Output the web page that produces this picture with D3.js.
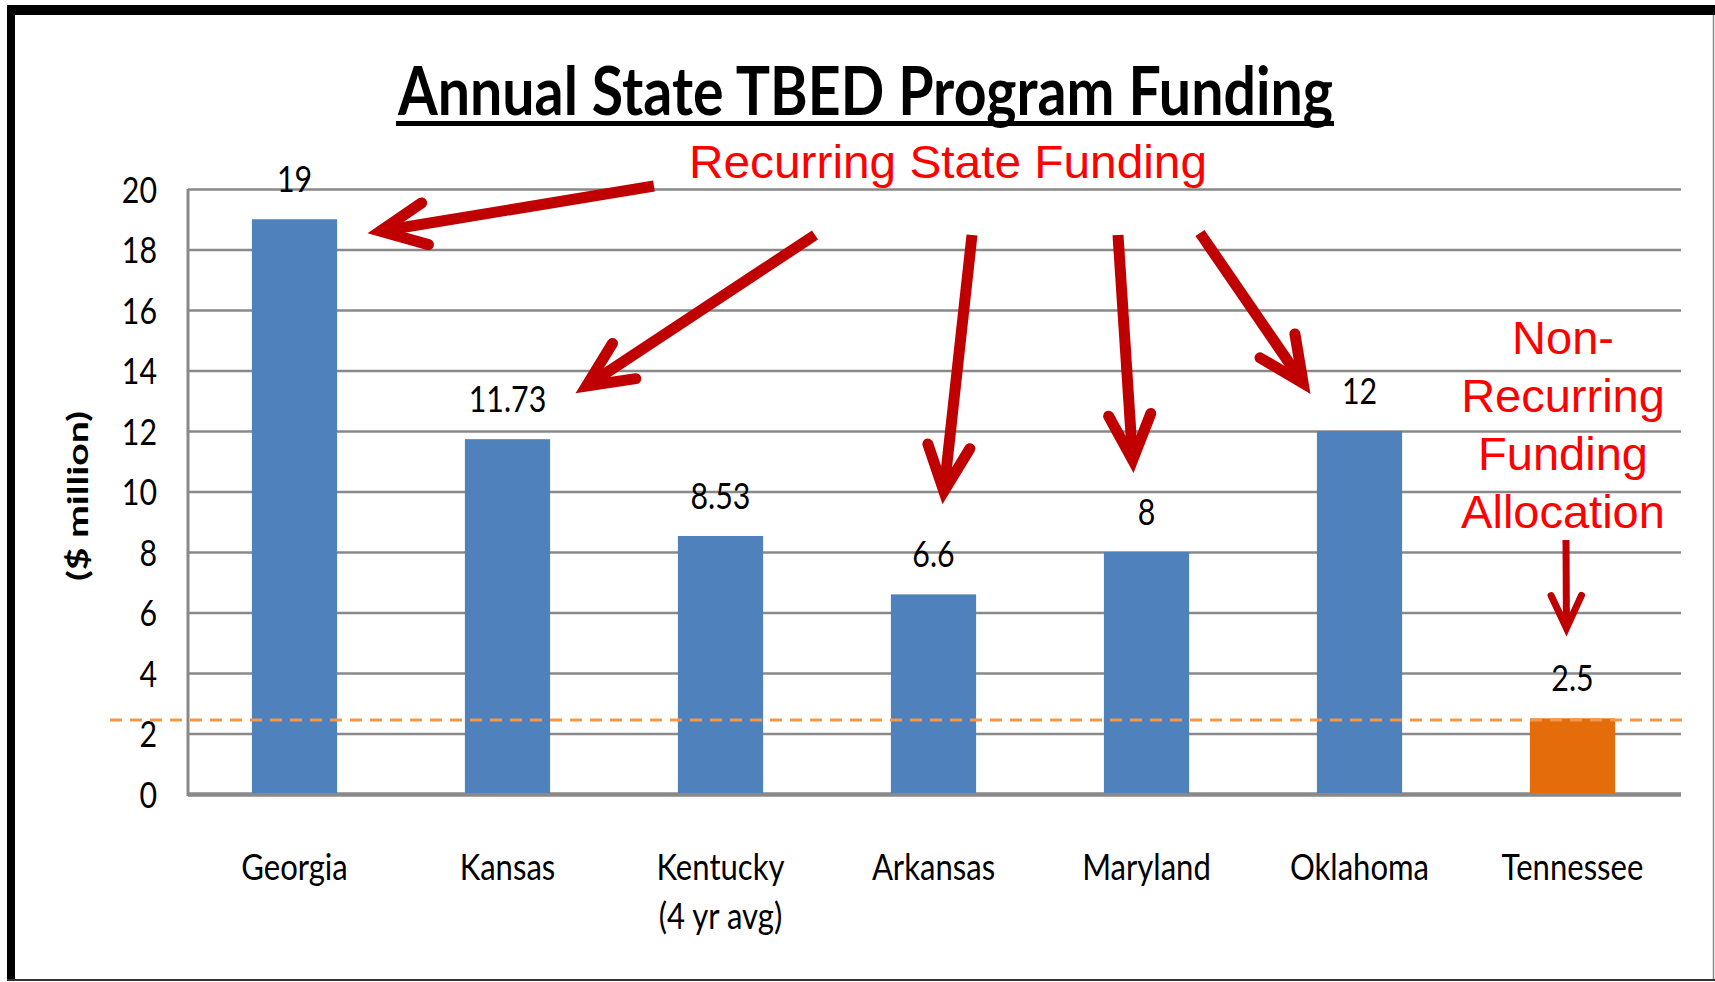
<!DOCTYPE html>
<html>
<head>
<meta charset="utf-8">
<script src="https://cdn.jsdelivr.net/npm/d3@7"></script>
<style>
  html, body { margin: 0; padding: 0; background: #fff; }
  svg { display: block; }
</style>
</head>
<body>
<div id="canvas"></div>
<script>
// chart data
const categories = ["Georgia", "Kansas", "Kentucky", "Arkansas", "Maryland", "Oklahoma", "Tennessee"];
const subLabels = ["", "", "(4 yr avg)", "", "", "", ""];
const funding = [19, 11.73, 8.53, 6.6, 8, 12, 2.5];
const valueLabels = ["19", "11.73", "8.53", "6.6", "8", "12", "2.5"];
const recurring = [true, true, true, true, true, true, false];
const yTicks = [0, 2, 4, 6, 8, 10, 12, 14, 16, 18, 20];
const refValue = 2.45;
const nonRecurringLines = ["Non-", "Recurring", "Funding", "Allocation"];

const width = 1715;
const height = 982;
const margin = { top: 189, left: 188, bottom: 188, right: 36 };
const iwidth = width - margin.left - margin.right;
const iheight = height - margin.top - margin.bottom;

const calibri = "Lato, 'Open Sans', sans-serif";
const arial = "'Liberation Sans', Arial, sans-serif";
const arrowRed = "#C00000";

// squeeze text horizontally, the source font is narrow
function condense(sel, k) {
    sel.each(function () {
        const len = this.getComputedTextLength();
        d3.select(this).attr("textLength", len * k).attr("lengthAdjust", "spacingAndGlyphs");
    });
}

const svg = d3.select("#canvas").append("svg")
    .attr("width", width)
    .attr("height", height);

svg.append("rect").attr("width", width).attr("height", height).attr("fill", "#fff");

// frame
svg.append("rect").attr("x", 7).attr("y", 5).attr("width", width - 7).attr("height", 10).attr("fill", "#000");
svg.append("rect").attr("x", 7).attr("y", 5).attr("width", 8).attr("height", height - 7).attr("fill", "#000");
svg.append("line").attr("x1", width - 1.5).attr("x2", width - 1.5).attr("y1", 15).attr("y2", height - 1)
    .attr("stroke", "#888").attr("stroke-width", 1.5);
svg.append("line").attr("x1", 7).attr("x2", width).attr("y1", height - 2).attr("y2", height - 2)
    .attr("stroke", "#333").attr("stroke-width", 2);

// title
svg.append("text")
    .attr("x", 398).attr("y", 115)
    .attr("font-family", calibri).attr("font-weight", 700).attr("font-size", 66)
    .attr("fill", "#000")
    .attr("textLength", 935).attr("lengthAdjust", "spacingAndGlyphs")
    .text("Annual State TBED Program Funding");
svg.append("rect").attr("x", 396).attr("y", 121).attr("width", 938).attr("height", 5).attr("fill", "#000");

const g = svg.append("g").attr("transform", `translate(${margin.left},${margin.top})`);

const y = d3.scaleLinear().domain([0, 20]).range([iheight, 0]);
const x = d3.scaleBand().domain(categories).range([0, iwidth]).paddingInner(0.6).paddingOuter(0.3);

// gridlines + tick labels
const yAxis = g.append("g")
    .call(d3.axisLeft(y).tickValues(yTicks).tickSize(-iwidth - 2).tickPadding(31));
yAxis.select(".domain").remove();
yAxis.selectAll(".tick line")
    .attr("stroke", "#898989")
    .attr("stroke-width", d => d === 0 ? 4.5 : 2.5);
yAxis.selectAll(".tick text")
    .attr("font-family", calibri).attr("font-size", 37).attr("fill", "#000")
    .attr("dy", "0.36em");
condense(yAxis.selectAll(".tick text"), 0.82);

g.append("line")
    .attr("x1", 0).attr("x2", 0).attr("y1", y(20)).attr("y2", y(0) + 2)
    .attr("stroke", "#898989").attr("stroke-width", 3);

// bars
g.selectAll("rect.bar").data(categories).enter().append("rect")
    .attr("class", "bar")
    .attr("x", d => x(d))
    .attr("y", (d, i) => y(funding[i]))
    .attr("width", x.bandwidth())
    .attr("height", (d, i) => y(0) - y(funding[i]) - 1)
    .attr("fill", (d, i) => recurring[i] ? "#4F81BD" : "#E46C0A");

// value labels
const vals = g.selectAll("text.val").data(categories).enter().append("text")
    .attr("class", "val")
    .attr("x", d => x(d) + x.bandwidth() / 2)
    .attr("y", (d, i) => y(funding[i]) - 27)
    .attr("text-anchor", "middle")
    .attr("font-family", calibri).attr("font-size", 37).attr("fill", "#000")
    .text((d, i) => valueLabels[i]);
condense(vals, 0.82);

// category labels
const cats = g.selectAll("text.cat").data(categories).enter().append("text")
    .attr("class", "cat")
    .attr("x", d => x(d) + x.bandwidth() / 2)
    .attr("y", y(0) + 86)
    .attr("text-anchor", "middle")
    .attr("font-family", calibri).attr("font-size", 37).attr("fill", "#000")
    .text(d => d);
condense(cats, 0.84);
const subs = g.selectAll("text.sub").data(categories.filter((d, i) => subLabels[i])).enter().append("text")
    .attr("class", "sub")
    .attr("x", d => x(d) + x.bandwidth() / 2)
    .attr("y", y(0) + 135)
    .attr("text-anchor", "middle")
    .attr("font-family", calibri).attr("font-size", 37).attr("fill", "#000")
    .text(d => subLabels[categories.indexOf(d)]);
condense(subs, 0.84);

// y axis title
svg.append("text")
    .attr("transform", "translate(88,496) rotate(-90)")
    .attr("text-anchor", "middle")
    .attr("font-family", calibri).attr("font-weight", 700).attr("font-size", 28)
    .attr("textLength", 170).attr("lengthAdjust", "spacingAndGlyphs")
    .text("($ million)");

// dashed reference line, on top of the bars
g.append("line")
    .attr("x1", -78).attr("x2", iwidth + 6)
    .attr("y1", y(refValue)).attr("y2", y(refValue))
    .attr("stroke", "#F79646").attr("stroke-width", 3)
    .attr("stroke-dasharray", "12 8");

// annotations
svg.append("text")
    .attr("x", 689).attr("y", 178)
    .attr("font-family", arial).attr("font-size", 46).attr("fill", "#FF0000")
    .attr("textLength", 518).attr("lengthAdjust", "spacingAndGlyphs")
    .text("Recurring State Funding");

svg.append("g").selectAll("text").data(nonRecurringLines).enter().append("text")
    .attr("x", 1563).attr("y", (d, i) => 354 + i * 58)
    .attr("text-anchor", "middle")
    .attr("font-family", arial).attr("font-size", 47).attr("fill", "#FF0000")
    .text(d => d);

// arrows: start point in page pixels, tip offset from the bar-top centre
const arrows = [
    { cat: "Georgia", start: [654, 186], off: [73, 14], w: 11, head: 50 },
    { cat: "Kansas", start: [815, 235], off: [68, -46], w: 11, head: 50 },
    { cat: "Arkansas", start: [972, 235], off: [9, -90], w: 11, head: 50 },
    { cat: "Maryland", start: [1118, 235], off: [-13, -79], w: 11, head: 50 },
    { cat: "Oklahoma", start: [1200, 233], off: [-49, -37], w: 11, head: 50 },
    { cat: "Tennessee", start: [1566, 540], off: [-6, -82], w: 7, head: 36 }
];

const ag = svg.append("g").attr("fill", "none").attr("stroke", arrowRed);
arrows.forEach(a => {
    const i = categories.indexOf(a.cat);
    const tx = margin.left + x(a.cat) + x.bandwidth() / 2 + a.off[0];
    const ty = margin.top + y(funding[i]) + a.off[1];
    const dx = tx - a.start[0], dy = ty - a.start[1];
    const L = Math.hypot(dx, dy);
    const ux = dx / L, uy = dy / L;
    const half = 25 * Math.PI / 180;
    // pull the path tip back so the mitre point lands on the visual tip
    const back = (a.w / 2) / Math.sin(half);
    const px = tx - ux * back, py = ty - uy * back;
    const rot = (vx, vy, ang) => [vx * Math.cos(ang) - vy * Math.sin(ang), vx * Math.sin(ang) + vy * Math.cos(ang)];
    const r1 = rot(-ux, -uy, half), r2 = rot(-ux, -uy, -half);
    ag.append("line")
        .attr("x1", a.start[0]).attr("y1", a.start[1])
        .attr("x2", px - ux * 4).attr("y2", py - uy * 4)
        .attr("stroke-width", a.w).attr("stroke-linecap", "butt");
    ag.append("path")
        .attr("d", `M${px + r1[0] * a.head},${py + r1[1] * a.head}L${px},${py}L${px + r2[0] * a.head},${py + r2[1] * a.head}`)
        .attr("stroke-width", a.w)
        .attr("stroke-linecap", "round")
        .attr("stroke-linejoin", "miter")
        .attr("stroke-miterlimit", 10);
});
</script>
</body>
</html>
